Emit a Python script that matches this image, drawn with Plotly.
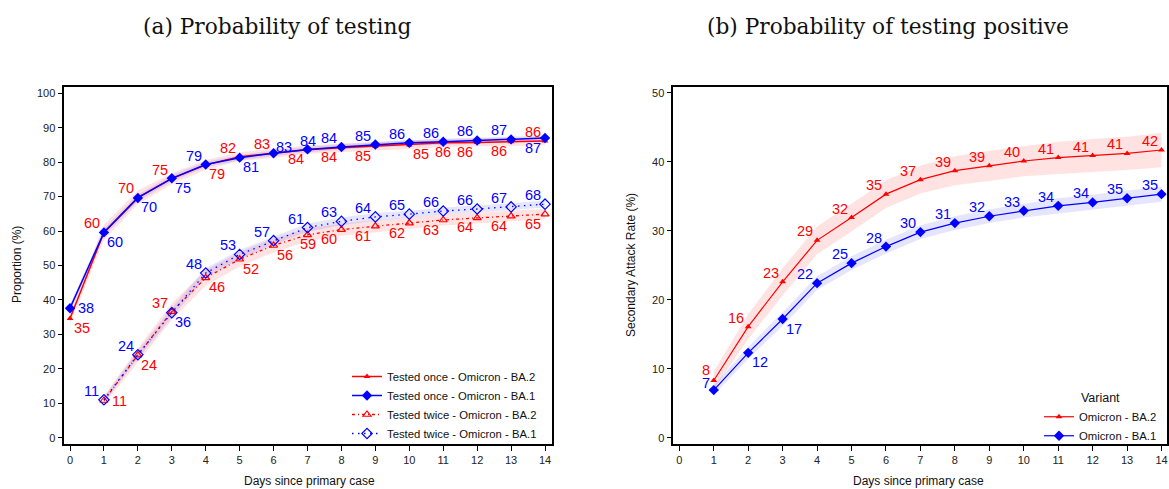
import plotly.graph_objects as go

# ---------------- data ----------------
days_a = list(range(0, 15))
days_a2 = list(range(1, 15))
days_b = list(range(1, 15))

once_ba2 = [34.6, 59.6, 69.8, 75.2, 79.2, 81.6, 82.6, 83.6, 84.2, 84.6, 85.0, 85.6, 85.7, 85.9, 86.1]
once_ba1 = [37.6, 59.6, 69.6, 75.3, 79.3, 81.3, 82.6, 83.7, 84.4, 85.1, 85.6, 85.9, 86.3, 86.6, 87.0]
twice_ba2 = [10.8, 24.0, 36.6, 46.4, 51.8, 55.8, 58.9, 60.4, 61.4, 62.3, 63.2, 63.8, 64.3, 64.9]
twice_ba1 = [11.0, 24.1, 36.3, 47.8, 53.2, 57.2, 61.0, 62.8, 64.1, 64.9, 65.8, 66.4, 67.0, 67.8]

# CI half-widths
once_ba2_ci = [1.5, 2.2, 2.0, 1.6, 1.4, 1.3, 1.3, 1.2, 1.2, 1.2, 1.2, 1.2, 1.2, 1.2, 1.2]
once_ba1_ci = [1.1, 1.1, 1.0, 0.9, 0.8, 0.8, 0.8, 0.8, 0.8, 0.8, 0.8, 0.8, 0.8, 0.8, 0.8]
twice_ba2_ci = [1.2, 2.0, 2.4, 2.3, 2.1, 2.0, 1.9, 1.8, 1.7, 1.7, 1.6, 1.6, 1.5, 1.5]
twice_ba1_ci = [0.8, 1.2, 1.4, 1.4, 1.3, 1.2, 1.2, 1.1, 1.1, 1.0, 1.0, 1.0, 1.0, 1.0]

sar_ba2 = [8.3, 16.1, 22.6, 28.6, 31.9, 35.3, 37.4, 38.7, 39.4, 40.1, 40.6, 40.9, 41.2, 41.7]
sar_ba1 = [6.9, 12.3, 17.2, 22.4, 25.3, 27.7, 29.8, 31.1, 32.1, 32.9, 33.6, 34.1, 34.7, 35.3]
sar_ba2_ci = [1.3, 1.8, 2.0, 2.0, 2.0, 2.0, 2.0, 2.1, 2.2, 2.2, 2.3, 2.4, 2.4, 2.5]
sar_ba1_ci = [0.7, 0.9, 1.0, 1.0, 1.0, 1.0, 1.0, 1.0, 1.0, 1.0, 1.1, 1.1, 1.1, 1.1]

# label placements (style)
pos_once_ba2 = ["lr", "ul", "ul", "ul", "lr", "ul", "ul", "ll", "ll", "ll", "lr", "d", "ll", "ll", "ul"]
pos_once_ba1 = ["r", "lr", "lr", "lr", "ul", "lr", "ur", "u", "ul", "ul", "ul", "ul", "ul", "ul", "ll"]
pos_twice_ba2 = ["r", "lr", "ul", "lr", "lr", "lr", "d", "ll", "ll", "ll", "ll", "ll", "ll", "ll"]
pos_twice_ba1 = ["ul", "ul", "lr"] + ["ul"] * 11
pos_sar_ba2 = ["ul8a"] + ["ul"] * 13
pos_sar_ba1 = ["ul8b", "lr", "lr"] + ["ul"] * 11

OFF = {"ul": (-12, -9), "ul8a": (-8, -10), "ul8b": (-8, -7), "ll": (-12, 9.5), "lr": (11.5, 9.5),
       "r": (16, 0), "u": (0, -8.5), "d": (0, 9), "ur": (10, -6.5)}

RED = "#ff0000"
BLUE = "#0000ff"
RED_BAND = "rgba(255,0,0,0.11)"
BLUE_BAND = "rgba(0,0,255,0.10)"

W, H = 1169, 489
fig = go.Figure()


def band(x, y, hw, color, xa, ya):
    lo = [a - b for a, b in zip(y, hw)]
    hi = [a + b for a, b in zip(y, hw)]
    fig.add_trace(go.Scatter(x=x + x[::-1], y=hi + lo[::-1], fill="toself", fillcolor=color,
                             line=dict(width=0), mode="lines", hoverinfo="skip",
                             showlegend=False, xaxis=xa, yaxis=ya))


band(days_a, once_ba2, once_ba2_ci, RED_BAND, "x", "y")
band(days_a, once_ba1, once_ba1_ci, BLUE_BAND, "x", "y")
band(days_a2, twice_ba2, twice_ba2_ci, RED_BAND, "x", "y")
band(days_a2, twice_ba1, twice_ba1_ci, BLUE_BAND, "x", "y")
band(days_b, sar_ba2, sar_ba2_ci, RED_BAND, "x2", "y2")
band(days_b, sar_ba1, sar_ba1_ci, BLUE_BAND, "x2", "y2")

fig.add_trace(go.Scatter(x=days_a, y=once_ba2, mode="lines+markers", name="Tested once - Omicron - BA.2",
                         line=dict(color=RED, width=1.5), marker=dict(symbol="triangle-up", size=6, color=RED),
                         xaxis="x", yaxis="y", legend="legend"))
fig.add_trace(go.Scatter(x=days_a, y=once_ba1, mode="lines+markers", name="Tested once - Omicron - BA.1",
                         line=dict(color=BLUE, width=1.5), marker=dict(symbol="diamond", size=8, color=BLUE),
                         xaxis="x", yaxis="y", legend="legend"))
fig.add_trace(go.Scatter(x=days_a2, y=twice_ba2, mode="lines+markers", name="Tested twice - Omicron - BA.2",
                         line=dict(color=RED, width=1.3, dash="3px,3px,1px,3px"),
                         marker=dict(symbol="triangle-up-open", size=7, color=RED, line=dict(width=1.2)),
                         xaxis="x", yaxis="y", legend="legend"))
fig.add_trace(go.Scatter(x=days_a2, y=twice_ba1, mode="lines+markers", name="Tested twice - Omicron - BA.1",
                         line=dict(color=BLUE, width=1.3, dash="1.5px,4.5px"),
                         marker=dict(symbol="diamond-open", size=8, color=BLUE, line=dict(width=1.2)),
                         xaxis="x", yaxis="y", legend="legend"))

fig.add_trace(go.Scatter(x=days_b, y=sar_ba2, mode="lines+markers", name="Omicron - BA.2",
                         line=dict(color=RED, width=1.2), marker=dict(symbol="triangle-up", size=6, color=RED),
                         xaxis="x2", yaxis="y2", legend="legend2"))
fig.add_trace(go.Scatter(x=days_b, y=sar_ba1, mode="lines+markers", name="Omicron - BA.1",
                         line=dict(color=BLUE, width=1.2), marker=dict(symbol="diamond", size=8, color=BLUE),
                         xaxis="x2", yaxis="y2", legend="legend2"))

annotations = []


def labels(x, y, pos, color, xr, yr):
    for xi, yi, p in zip(x, y, pos):
        dx, dy = OFF[p]
        annotations.append(dict(x=xi, y=yi, xref=xr, yref=yr, text=f"{yi:.0f}", showarrow=False,
                                xanchor="center", yanchor="middle", xshift=dx, yshift=-dy,
                                font=dict(family="Liberation Sans, Arial", size=14.5, color=color)))


labels(days_a, once_ba2, pos_once_ba2, RED, "x", "y")
labels(days_a, once_ba1, pos_once_ba1, BLUE, "x", "y")
labels(days_a2, twice_ba2, pos_twice_ba2, RED, "x", "y")
labels(days_a2, twice_ba1, pos_twice_ba1, BLUE, "x", "y")
labels(days_b, sar_ba2, pos_sar_ba2, RED, "x2", "y2")
labels(days_b, sar_ba1, pos_sar_ba1, BLUE, "x2", "y2")


def txt(x, y, s, size, family="Liberation Sans, Arial", angle=0):
    annotations.append(dict(x=x / W, y=1 - y / H, xref="paper", yref="paper", text=s, showarrow=False,
                            xanchor="center", yanchor="middle", textangle=angle,
                            font=dict(family=family, size=size, color="#111")))


txt(277, 26.5, "(a) Probability of testing", 21.7, "DejaVu Serif, serif")
txt(888, 26.5, "(b) Probability of testing positive", 21.7, "DejaVu Serif, serif")
txt(310, 481, "Days since primary case", 12)
txt(918, 481, "Days since primary case", 12)
txt(17, 265, "Proportion (%)", 12, angle=-90)
txt(631, 265, "Secondary Attack Rate (%)", 12, angle=-90)

axis_common = dict(showgrid=False, zeroline=False, showline=True, linecolor="black", linewidth=1.5,
                   mirror=True, ticks="outside", ticklen=5, tickwidth=1, tickcolor="black",
                   tickfont=dict(family="Liberation Sans, Arial", size=11, color="#222"))

fig.update_layout(
    width=W, height=H, margin=dict(l=0, r=0, t=0, b=0),
    paper_bgcolor="white", plot_bgcolor="white",
    xaxis=dict(domain=[64.3 / W, 551.7 / W], range=[-0.168, 14.197], tickmode="linear", tick0=0, dtick=1,
               anchor="y", **axis_common),
    yaxis=dict(domain=[(H - 444) / H, (H - 86.7) / H], range=[-1.83, 101.9], tickmode="linear", tick0=0,
               dtick=10, anchor="x", **axis_common),
    xaxis2=dict(domain=[673.3 / W, 1166.7 / W], range=[-0.174, 14.15], tickmode="linear", tick0=0, dtick=1,
                anchor="y2", **axis_common),
    yaxis2=dict(domain=[(H - 444) / H, (H - 86.7) / H], range=[-0.91, 50.87], tickmode="linear", tick0=0,
                dtick=10, anchor="x2", **axis_common),
    legend=dict(x=542 / W, y=1 - 448 / H, xanchor="right", yanchor="bottom", bgcolor="rgba(0,0,0,0)",
                font=dict(family="Liberation Sans, Arial", size=11.3, color="#111"), traceorder="normal",
                tracegroupgap=0),
    legend2=dict(x=1162 / W, y=1 - 451 / H, xanchor="right", yanchor="bottom", bgcolor="rgba(0,0,0,0)",
                 font=dict(family="Liberation Sans, Arial", size=11.3, color="#111"),
                 title=dict(text="Variant", side="top center",
                            font=dict(family="Liberation Sans, Arial", size=12.5, color="#111"))),
    annotations=annotations,
    showlegend=True,
)

fig.write_html("out.html", config={"displayModeBar": False},
               post_script="document.body.style.margin='0';document.body.style.overflow='hidden';")
